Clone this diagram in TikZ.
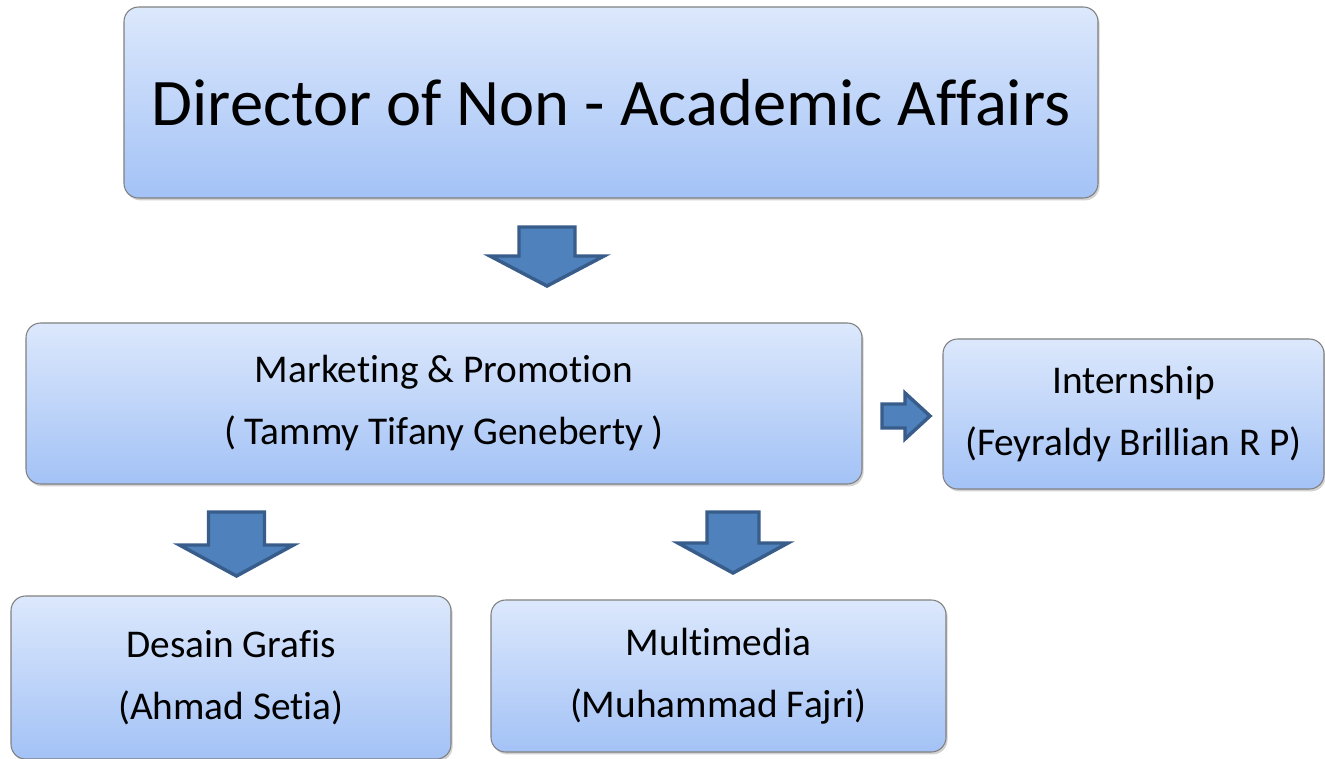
\documentclass[tikz,border=0pt]{standalone}
\usepackage{fontspec}
\setmainfont[Ligatures=NoCommon]{Carlito}
\usetikzlibrary{shadows}
\definecolor{boxtop}{RGB}{220,232,252}
\definecolor{boxbot}{RGB}{163,194,246}
\definecolor{boxline}{RGB}{128,128,128}
\definecolor{arrowfill}{RGB}{79,129,189}
\definecolor{arrowline}{RGB}{56,93,138}
\tikzset{
  box/.style={draw=boxline, line width=0.8pt, rounded corners=11pt,
    top color=boxtop, bottom color=boxbot,
    drop shadow={opacity=0.35, shadow xshift=1.2pt, shadow yshift=-1.8pt},
    align=center, inner sep=0pt, font=\fontsize{29.5}{46.5}\selectfont},
  blockarrow/.style={fill=arrowfill, draw=arrowline, line width=2.6pt, line join=miter}
}
\newcommand{\dnarrow}[6]{% cx, shafttop, shafthalf, heady, headhalf, tipy
  \filldraw[blockarrow] (#1-#3,#2) -- (#1+#3,#2) -- (#1+#3,#4) -- (#1+#5,#4)
    -- (#1,#6) -- (#1-#5,#4) -- (#1-#3,#4) -- cycle;}
\begin{document}
\begin{tikzpicture}[x=0.75pt,y=-0.75pt]
\useasboundingbox (0,0) rectangle (1325,759);
\fill[white] (0,0) rectangle (1325,759);
\node[box, minimum width=730.5pt, minimum height=143.25pt,
  font=\fontsize{49.9}{60}\selectfont] (dir) at (611,102.5) {Director of Non - Academic Affairs};
\node[box, minimum width=627pt, minimum height=120.75pt] (mkt) at (444,403.5)
  {Marketing \& Promotion\\( Tammy Tifany Geneberty )};
\node[box, minimum width=285.75pt, minimum height=112.5pt] (int) at (1133.5,414)
  {Internship\\(Feyraldy Brillian R P)};
\node[box, minimum width=330pt, minimum height=122.25pt] (des) at (231,677.5)
  {Desain Grafis\\(Ahmad Setia)};
\node[box, minimum width=341.25pt, minimum height=114pt] (mul) at (718.5,676)
  {Multimedia\\(Muhammad Fajri)};
\dnarrow{547}{227}{28}{256}{57}{286}
\dnarrow{236.5}{512}{28}{545}{57}{576}
\dnarrow{733}{512}{26}{543}{55}{573}
\filldraw[blockarrow] (882,404) -- (905,404) -- (905,393) -- (930,416)
  -- (905,439) -- (905,428) -- (882,428) -- cycle;
\end{tikzpicture}
\end{document}
